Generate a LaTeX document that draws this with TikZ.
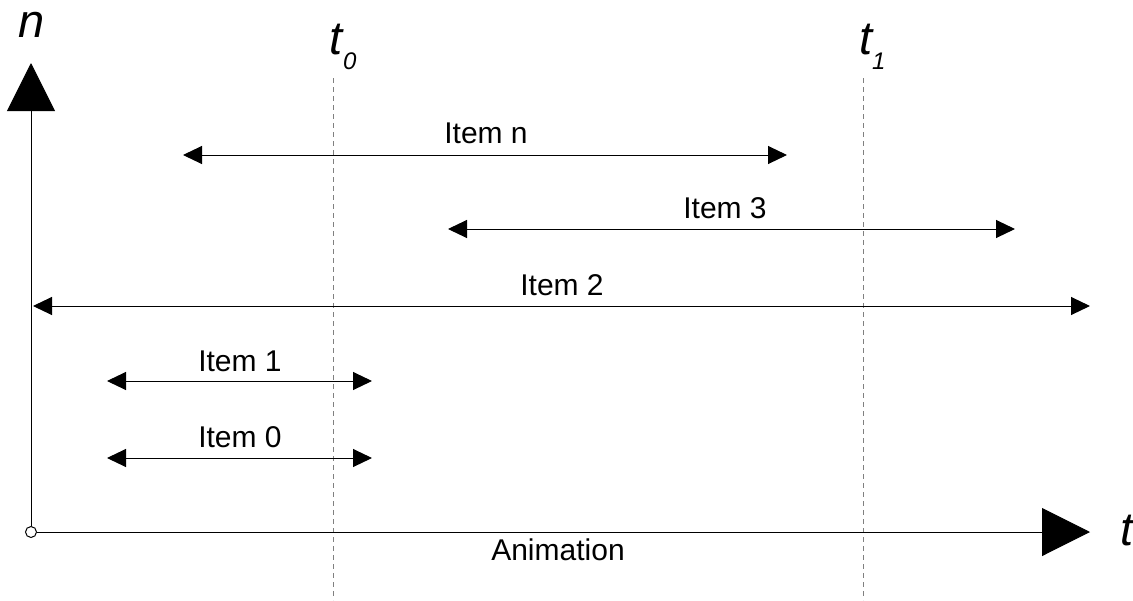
\documentclass[tikz,border=0pt]{standalone}
\usepackage{fontspec}
\setmainfont{Liberation Sans}
\usetikzlibrary{arrows.meta}
\tikzset{
  axis/.style={line width=1pt, -{Triangle[length=48pt,width=48pt]}},
  span/.style={line width=1pt, {Triangle[length=19pt,width=18pt]}-{Triangle[length=19pt,width=18pt]}},
  timeline/.style={line width=0.8pt, gray, dash pattern=on 5pt off 4pt},
  lbl/.style={font=\fontsize{30}{34}\selectfont, inner sep=0pt, anchor=base},
  big/.style={font=\fontsize{47}{50}\selectfont\itshape, inner sep=0pt},
  sub/.style={font=\fontsize{24}{28}\selectfont\itshape, inner sep=0pt}
}
\begin{document}
\begin{tikzpicture}[x=1pt,y=-1pt]
\useasboundingbox (0,0) rectangle (1133,600);
% time markers
\coordinate (t0top) at (333,78);
\coordinate (t0bot) at (333,600);
\coordinate (t1top) at (863,78);
\coordinate (t1bot) at (863,600);
\draw[timeline] (t0top) -- (t0bot);
\draw[timeline] (t1top) -- (t1bot);
\node[big, anchor=base] (t0) at (336,54) {t};
\node[sub, anchor=base west] (t0s) at (343,69) {0};
\node[big, anchor=base] (t1) at (866,54) {t};
\node[sub, anchor=base west] (t1s) at (872,69) {1};
% axes
\node[draw, circle, minimum size=11pt, inner sep=0pt, line width=1pt, fill=white] (o) at (31,532) {};
\coordinate (ytip) at (31,63);
\coordinate (xtip) at (1090,532);
\draw[axis] (o) -- (ytip);
\draw[axis] (o) -- (xtip);
\node[big, anchor=base] (nlab) at (32,37) {n};
\node[big, anchor=base west] (tlab) at (1120,545) {t};
\node[lbl] (anim) at (558,560) {Animation};
% items
\coordinate (na) at (183,155); \coordinate (nb) at (787,155);
\draw[span] (na) -- (nb);
\node[lbl] (ln) at (486,143) {Item n};
\coordinate (3a) at (448,229); \coordinate (3b) at (1015,229);
\draw[span] (3a) -- (3b);
\node[lbl] (l3) at (725,218) {Item 3};
\coordinate (2a) at (33,306); \coordinate (2b) at (1090,306);
\draw[span] (2a) -- (2b);
\node[lbl] (l2) at (562,295) {Item 2};
\coordinate (1a) at (107,381); \coordinate (1b) at (372,381);
\draw[span] (1a) -- (1b);
\node[lbl] (l1) at (240,371) {Item 1};
\coordinate (0a) at (107,458); \coordinate (0b) at (372,458);
\draw[span] (0a) -- (0b);
\node[lbl] (l0) at (240,447) {Item 0};
\end{tikzpicture}
\end{document}
